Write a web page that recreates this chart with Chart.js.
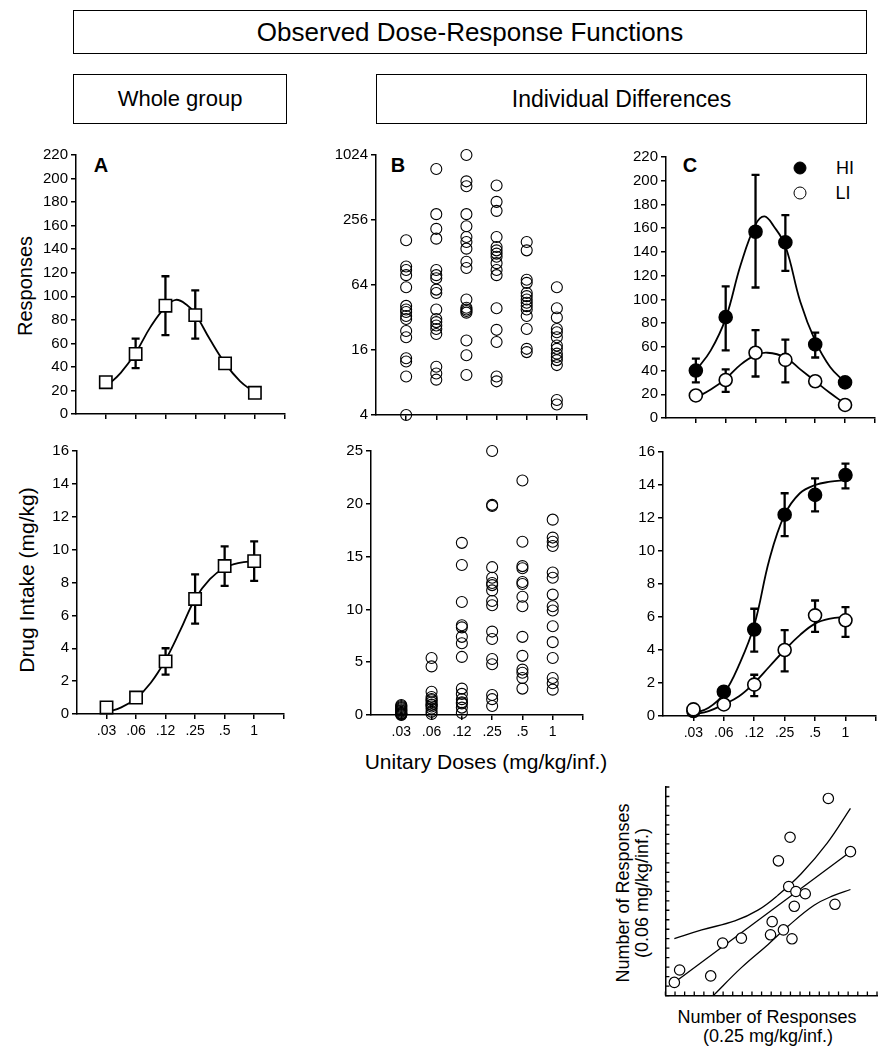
<!DOCTYPE html>
<html>
<head>
<meta charset="utf-8">
<title>Observed Dose-Response Functions</title>
<script src="https://cdn.jsdelivr.net/npm/chart.js@4.4.0/dist/chart.umd.min.js"></script>
<style>
  body { margin: 0; width: 884px; height: 1049px; background: #fff; position: relative; overflow: hidden;
         font-family: "Liberation Sans", Arial, sans-serif; color: #000; }
  .box { position: absolute; border: 1.5px solid #000; box-sizing: border-box;
         display: flex; align-items: center; justify-content: center; }
  .lbl { position: absolute; white-space: nowrap; line-height: 1; transform: translate(-50%, -50%); }
  .rot { transform: translate(-50%, -50%) rotate(-90deg); }
  .dot { position: absolute; width: 13px; height: 13px; border-radius: 50%; border: 1.5px solid #000;
         box-sizing: border-box; transform: translate(-50%, -50%); }
  canvas { position: absolute; }
</style>
</head>
<body>
<div class="box" style="left:73px;top:10px;width:794px;height:44px;font-size:26px;">Observed Dose-Response Functions</div>
<div class="box" style="left:73px;top:74px;width:214px;height:50px;font-size:22px;">Whole group</div>
<div class="box" style="left:376px;top:74px;width:491px;height:50px;font-size:23px;">Individual Differences</div>

<div class="lbl" style="left:101px;top:165px;font-size:20px;font-weight:bold;">A</div>
<div class="lbl" style="left:398px;top:165px;font-size:20px;font-weight:bold;">B</div>
<div class="lbl" style="left:690px;top:165px;font-size:20px;font-weight:bold;">C</div>

<div class="dot" style="left:800px;top:168px;background:#000;"></div>
<div class="lbl" style="left:845px;top:168px;font-size:18px;">HI</div>
<div class="dot" style="left:800px;top:193px;background:#fff;"></div>
<div class="lbl" style="left:843px;top:193px;font-size:18px;">LI</div>

<div class="lbl rot" style="left:25px;top:286px;font-size:20px;">Responses</div>
<div class="lbl rot" style="left:26px;top:580px;font-size:21px;">Drug Intake (mg/kg)</div>
<div class="lbl" style="left:486px;top:761px;font-size:21px;">Unitary Doses (mg/kg/inf.)</div>

<div class="lbl rot" style="left:623px;top:893px;font-size:18px;">Number of Responses</div>
<div class="lbl rot" style="left:642px;top:893px;font-size:18px;">(0.06 mg/kg/inf.)</div>
<div class="lbl" style="left:767px;top:1017px;font-size:18px;">Number of Responses</div>
<div class="lbl" style="left:768px;top:1036px;font-size:18px;">(0.25 mg/kg/inf.)</div>

<script>
'use strict';

// dose categories, placed at positions 1..6 on each x axis
const doseLabels = ['.03', '.06', '.12', '.25', '.5', '1'];
const dosePos = [1, 2, 3, 4, 5, 6];
const fitX = [1, 1.5, 2, 2.5, 3, 3.5, 4, 4.5, 5, 5.5, 6];

// A - whole group, responses (mean, error bar ends, fitted curve)
const groupResp = [27, 51, 92, 84, 43, 18];
const groupRespLo = [25, 39, 67, 64, 40, 17];
const groupRespHi = [29, 64, 117, 105, 46, 19];
const groupRespFitX = [1, 1.5, 2, 2.5, 3, 3.35, 3.7, 4, 4.5, 5, 5.5, 6];
const groupRespFit = [23, 35, 52, 74, 91, 97, 93, 85, 63, 43, 28, 18];

// A - whole group, drug intake
const groupIntake = [0.4, 1.0, 3.2, 7.0, 9.0, 9.3];
const groupIntakeLo = [0.4, 1.0, 2.4, 5.5, 7.8, 8.1];
const groupIntakeHi = [0.4, 1.0, 4.0, 8.5, 10.2, 10.5];
const groupIntakeFit = [0.1, 0.4, 0.95, 1.9, 3.3, 5.1, 7.0, 8.2, 8.9, 9.2, 9.3];

// B - individual responses per dose (log scale)
const resp03 = [166, 95, 88, 79, 61, 41, 38, 36, 33, 31, 24, 21, 13.4, 12.5, 9.1, 4];
const resp06 = [760, 290, 212, 172, 88, 79, 74, 58, 54, 38, 31, 29, 27, 25, 22.5, 11.2, 9.7, 8.5];
const resp12 = [1024, 584, 526, 290, 224, 178, 160, 139, 105, 92, 47, 39.4, 38, 36.8, 35.5, 19.6, 14.3, 9.4];
const resp25 = [534, 377, 311, 178, 144, 134, 125, 117, 102, 88, 79, 39, 24.6, 19, 9.1, 8.2];
const resp5 = [160, 134, 71.5, 67, 54, 50.5, 47, 43.8, 40.8, 38, 33, 25, 16.4, 15.3];
const resp1 = [61, 39, 32, 25, 23.4, 21, 17.6, 16.4, 14.8, 13.8, 12.9, 11.6, 5.5, 5.0];

// B - individual drug intake per dose
const intake03 = [0.95, 0.85, 0.75, 0.65, 0.55, 0.45, 0.4, 0.3, 0.2, 0.15, 0.1, 0.05, 0.0];
const intake06 = [5.4, 4.6, 2.2, 1.7, 1.5, 1.4, 1.2, 1.0, 0.95, 0.8, 0.6, 0.3, 0.1];
const intake12 = [16.3, 14.2, 10.7, 8.5, 8.3, 7.4, 6.8, 5.5, 2.5, 2.0, 1.5, 1.2, 1.1, 0.7, 0.2];
const intake25 = [25, 19.9, 19.8, 14.0, 13.0, 12.5, 12.3, 11.8, 10.8, 10.4, 7.9, 7.2, 5.3, 4.8, 1.9, 1.5, 0.85];
const intake5 = [22.2, 16.4, 14.1, 13.9, 12.6, 12.4, 11.2, 10.3, 7.4, 5.6, 4.3, 4.0, 3.5, 2.5];
const intake1 = [18.5, 16.8, 16.4, 16.0, 13.5, 13.0, 11.4, 10.3, 9.9, 8.4, 6.9, 5.4, 3.5, 3.0, 2.4];

// C - HI / LI responses
const hiResp = [40, 85, 157, 148, 62, 30];
const hiRespLo = [30, 57, 110, 124, 51, 30];
const hiRespHi = [50, 111, 205, 171, 72, 30];
const liResp = [19, 32, 55, 49, 31, 11];
const liRespLo = [15, 22, 35, 30, 31, 11];
const liRespHi = [22, 41, 74, 66, 31, 11];
const hiRespFitX = [1, 1.5, 2, 2.5, 3, 3.3, 3.6, 4, 4.5, 5, 5.5, 6];
const hiRespFit = [40, 57, 84, 129, 163, 170, 162, 145, 98, 65, 43, 30];
const liRespFitX = [1, 1.5, 2, 2.5, 3, 3.4, 4, 4.5, 5, 5.5, 6];
const liRespFit = [17, 24, 33, 45, 53, 55, 51, 41, 31, 21, 12];

// C - HI / LI drug intake
const hiIntake = [0.3, 1.47, 5.24, 12.2, 13.4, 14.6];
const hiIntakeLo = [0.3, 1.47, 3.9, 10.9, 12.4, 13.8];
const hiIntakeHi = [0.3, 1.47, 6.5, 13.5, 14.4, 15.3];
const liIntake = [0.4, 0.7, 1.9, 4.0, 6.1, 5.8];
const liIntakeLo = [0.4, 0.7, 1.2, 2.7, 5.1, 4.8];
const liIntakeHi = [0.4, 0.7, 2.5, 5.2, 7.0, 6.6];
const hiIntakeFit = [0.15, 0.5, 1.35, 3.1, 5.5, 9.5, 12.2, 13.5, 14.0, 14.2, 14.3];
const liIntakeFit = [0.1, 0.3, 0.7, 1.2, 2.0, 3.0, 4.0, 4.9, 5.6, 5.9, 6.0];

// regression: responses at 0.25 (x) vs 0.06 (y), arbitrary units
const regX = [16.94, 12.96, 11.75, 19.24, 12.82, 13.57, 14.54, 13.40, 17.63, 11.10, 12.27, 10.93, 13.16, 7.90, 5.95, 4.71, 1.48, 0.93];
const regY = [20.79, 16.70, 14.21, 15.18, 11.50, 10.98, 10.74, 9.42, 9.63, 7.80, 6.93, 6.41, 5.99, 6.06, 5.54, 2.08, 2.70, 1.39];
const regLineX = [0.93, 19.24];
const regLineY = [1.39, 15.18];
const ciUpX = [0.93, 3.78, 7.22, 9.62, 11.68, 14.09, 16.84, 19.24];
const ciUpY = [6.0, 6.93, 7.87, 9.01, 10.57, 12.82, 16.11, 19.75];
const ciLoX = [4.98, 7.90, 10.65, 12.71, 15.46, 17.53, 19.24];
const ciLoY = [0, 2.95, 5.37, 7.28, 9.53, 10.57, 11.19];

Chart.defaults.font.family = '"Liberation Sans", Arial, sans-serif';
Chart.defaults.color = '#000';

function pts(xs, ys) {
  return xs.map((x, i) => ({ x: x, y: ys[i] }));
}

// error bars are drawn under the markers with the chart's own scales
const errorBars = {
  id: 'errorBars',
  beforeDatasetsDraw(chart) {
    let ctx = chart.ctx;
    let xs = chart.scales.x;
    let ys = chart.scales.y;
    chart.data.datasets.forEach(ds => {
      if (!ds.errLo) return;
      ctx.save();
      ctx.strokeStyle = '#000';
      ctx.lineWidth = 2.3;
      ds.data.forEach((p, j) => {
        let px = xs.getPixelForValue(p.x);
        let lo = ys.getPixelForValue(ds.errLo[j]);
        let hi = ys.getPixelForValue(ds.errHi[j]);
        ctx.beginPath();
        ctx.moveTo(px, lo); ctx.lineTo(px, hi);
        ctx.moveTo(px - 4, lo); ctx.lineTo(px + 4, lo);
        ctx.moveTo(px - 4, hi); ctx.lineTo(px + 4, hi);
        ctx.stroke();
      });
      ctx.restore();
    });
  }
};

// tick marks pointing into the plot (regression panel)
const innerTicks = {
  id: 'innerTicks',
  afterDraw(chart) {
    let ctx = chart.ctx;
    let a = chart.chartArea;
    let xs = chart.scales.x;
    let ys = chart.scales.y;
    ctx.save();
    ctx.strokeStyle = '#000';
    ctx.lineWidth = 1.3;
    ctx.beginPath();
    xs.ticks.forEach(t => {
      let px = xs.getPixelForValue(t.value);
      ctx.moveTo(px, a.bottom); ctx.lineTo(px, a.bottom - 4);
    });
    ys.ticks.forEach(t => {
      let py = ys.getPixelForValue(t.value);
      ctx.moveTo(a.left, py); ctx.lineTo(a.left + 4, py);
    });
    ctx.stroke();
    ctx.restore();
  }
};

const PAD_TOP = 14;
const PAD_RIGHT = 8;

function makeCanvas(area, yW, xH) {
  let c = document.createElement('canvas');
  let left = area.l - yW;
  let top = area.t - PAD_TOP;
  c.width = area.r + PAD_RIGHT - left;
  c.height = area.b + xH - top;
  c.style.left = left + 'px';
  c.style.top = top + 'px';
  document.body.appendChild(c);
  return c;
}

function tickGrid() {
  return { display: true, drawOnChartArea: false, drawTicks: true, tickLength: 5, color: '#000', lineWidth: 1.5 };
}

function axisBorder() {
  return { display: true, color: '#000', width: 1.5 };
}

function doseAxis(showLabels, xH) {
  return {
    type: 'linear', min: 0, max: 7,
    afterBuildTicks: s => { s.ticks = [1, 2, 3, 4, 5, 6, 7].map(v => ({ value: v })); },
    ticks: {
      autoSkip: false, maxRotation: 0, padding: 4, font: { size: 14 },
      callback: v => showLabels ? (doseLabels[v - 1] || '') : ''
    },
    grid: tickGrid(),
    border: axisBorder(),
    afterFit: s => { s.height = xH; }
  };
}

function valueAxis(max, step, yW) {
  return {
    type: 'linear', min: 0, max: max,
    ticks: { stepSize: step, font: { size: 15 }, padding: 3 },
    grid: tickGrid(),
    border: axisBorder(),
    afterFit: s => { s.width = yW; }
  };
}

function logAxis(yW) {
  return {
    type: 'logarithmic', min: 4, max: 1024,
    afterBuildTicks: s => { s.ticks = [4, 16, 64, 256, 1024].map(v => ({ value: v })); },
    ticks: { font: { size: 15 }, padding: 3, callback: v => String(v) },
    grid: tickGrid(),
    border: axisBorder(),
    afterFit: s => { s.width = yW; }
  };
}

function baseOptions(xAxis, yAxis) {
  return {
    responsive: false,
    animation: false,
    layout: { padding: { top: PAD_TOP, right: PAD_RIGHT, left: 0, bottom: 0 } },
    plugins: { legend: { display: false }, tooltip: { enabled: false } },
    scales: { x: xAxis, y: yAxis }
  };
}

function fitLine(xs, ys) {
  return {
    type: 'line', data: pts(xs, ys), showLine: true, borderColor: '#000', borderWidth: 1.8,
    pointRadius: 0, tension: 0.4, fill: false, order: 2, clip: false
  };
}

function squares(ys, lo, hi) {
  return {
    type: 'scatter', data: pts(dosePos, ys), errLo: lo, errHi: hi, pointStyle: 'rect',
    pointRadius: 8.7, borderColor: '#000', borderWidth: 1.6, backgroundColor: '#fff', order: 0, clip: false
  };
}

function circles(ys, lo, hi, filled, order) {
  return {
    type: 'scatter', data: pts(dosePos, ys), errLo: lo, errHi: hi, pointStyle: 'circle',
    pointRadius: 6.5, borderColor: '#000', borderWidth: 1.6,
    backgroundColor: filled ? '#000' : '#fff', order: order, clip: false
  };
}

function individual(lists) {
  let data = [];
  lists.forEach((vals, i) => {
    vals.forEach(v => data.push({ x: dosePos[i], y: v }));
  });
  return {
    type: 'scatter', data: data, pointStyle: 'circle', pointRadius: 5.5,
    borderColor: '#000', borderWidth: 1.1, backgroundColor: 'rgba(0,0,0,0)', clip: false
  };
}

// panel A, responses
let areaA1 = { l: 76, r: 287, t: 155, b: 418 };
new Chart(makeCanvas(areaA1, 50, 8), {
  type: 'scatter',
  data: { datasets: [squares(groupResp, groupRespLo, groupRespHi), fitLine(groupRespFitX, groupRespFit)] },
  options: baseOptions(doseAxis(false, 8), valueAxis(220, 20, 50)),
  plugins: [errorBars]
});

// panel A, intake
let areaA2 = { l: 77, r: 286, t: 451, b: 714 };
new Chart(makeCanvas(areaA2, 50, 32), {
  type: 'scatter',
  data: { datasets: [squares(groupIntake, groupIntakeLo, groupIntakeHi), fitLine(fitX, groupIntakeFit)] },
  options: baseOptions(doseAxis(true, 32), valueAxis(16, 2, 50)),
  plugins: [errorBars]
});

// panel B, responses
let areaB1 = { l: 376, r: 587, t: 155, b: 419 };
new Chart(makeCanvas(areaB1, 50, 8), {
  type: 'scatter',
  data: { datasets: [individual([resp03, resp06, resp12, resp25, resp5, resp1])] },
  options: baseOptions(doseAxis(false, 8), logAxis(50))
});

// panel B, intake
let areaB2 = { l: 371, r: 583, t: 451, b: 715 };
new Chart(makeCanvas(areaB2, 50, 32), {
  type: 'scatter',
  data: { datasets: [individual([intake03, intake06, intake12, intake25, intake5, intake1])] },
  options: baseOptions(doseAxis(true, 32), valueAxis(25, 5, 50))
});

// panel C, responses
let areaC1 = { l: 666, r: 875, t: 157, b: 422 };
new Chart(makeCanvas(areaC1, 50, 8), {
  type: 'scatter',
  data: {
    datasets: [
      circles(liResp, liRespLo, liRespHi, false, 0),
      circles(hiResp, hiRespLo, hiRespHi, true, 1),
      fitLine(hiRespFitX, hiRespFit),
      fitLine(liRespFitX, liRespFit)
    ]
  },
  options: baseOptions(doseAxis(false, 8), valueAxis(220, 20, 50)),
  plugins: [errorBars]
});

// panel C, intake
let areaC2 = { l: 663, r: 876, t: 452, b: 716 };
new Chart(makeCanvas(areaC2, 50, 32), {
  type: 'scatter',
  data: {
    datasets: [
      circles(liIntake, liIntakeLo, liIntakeHi, false, 0),
      circles(hiIntake, hiIntakeLo, hiIntakeHi, true, 1),
      fitLine(fitX, hiIntakeFit),
      fitLine(fitX, liIntakeFit)
    ]
  },
  options: baseOptions(doseAxis(true, 32), valueAxis(16, 2, 50)),
  plugins: [errorBars]
});

// regression panel
let areaR = { l: 663, r: 877, t: 787, b: 998 };
let regOptions = baseOptions(
  {
    type: 'linear', min: 0, max: 22,
    ticks: { display: false, stepSize: 1 },
    grid: { display: false },
    border: axisBorder(),
    afterFit: s => { s.height = 4; }
  },
  {
    type: 'linear', min: 0, max: 22,
    ticks: { display: false, stepSize: 1 },
    grid: { display: false },
    border: axisBorder(),
    afterFit: s => { s.width = 4; }
  }
);
new Chart(makeCanvas(areaR, 4, 4), {
  type: 'scatter',
  data: {
    datasets: [
      {
        type: 'scatter', data: pts(regX, regY), pointStyle: 'circle', pointRadius: 5.2,
        borderColor: '#000', borderWidth: 1.2, backgroundColor: '#fff', order: 0, clip: false
      },
      Object.assign(fitLine(regLineX, regLineY), { borderWidth: 1.3, tension: 0 }),
      Object.assign(fitLine(ciUpX, ciUpY), { borderWidth: 1.3 }),
      Object.assign(fitLine(ciLoX, ciLoY), { borderWidth: 1.3 })
    ]
  },
  options: regOptions,
  plugins: [innerTicks]
});
</script>
</body>
</html>
